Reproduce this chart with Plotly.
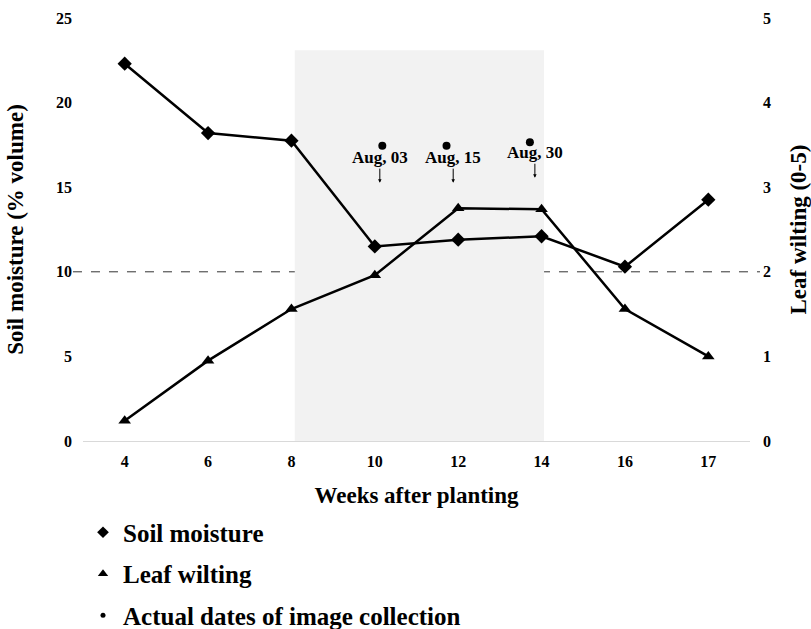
import plotly.graph_objects as go

# Weeks after planting (categorical tick labels)
weeks = ["4", "6", "8", "10", "12", "14", "16", "17"]
# Soil moisture (% volume), left axis
soil_moisture = [22.3, 18.2, 17.75, 11.5, 11.9, 12.1, 10.3, 14.26]
# Leaf wilting score (0-5), right axis
leaf_wilting = [0.24, 0.95, 1.56, 1.96, 2.75, 2.74, 1.56, 1.0]

# Image collection dates, placed along the week axis (category index units)
image_dates = ["Aug, 03", "Aug, 15", "Aug, 30"]
image_pos = [3.09, 3.86, 4.86]
image_level = [17.45, 17.45, 17.65]
arrow_pos = [3.06, 3.94, 4.92]
arrow_tip = [15.27, 15.27, 15.56]

# Shaded stress period (weeks 8-14) and threshold
stress_start, stress_end, stress_top = 2.04, 5.03, 23.1
threshold = 10

FONT = "Liberation Serif, Times New Roman, serif"
idx = list(range(len(weeks)))

fig = go.Figure()

fig.add_trace(go.Scatter(
    x=idx, y=soil_moisture, mode="lines+markers", name="Soil moisture",
    line=dict(color="black", width=2.5),
    marker=dict(symbol="diamond", size=11, color="black"),
    showlegend=False,
))
fig.add_trace(go.Scatter(
    x=idx, y=leaf_wilting, mode="lines+markers", name="Leaf wilting",
    yaxis="y2",
    line=dict(color="black", width=2.5),
    marker=dict(symbol="triangle-up", size=11, color="black"),
    showlegend=False,
))
fig.add_trace(go.Scatter(
    x=image_pos, y=image_level, mode="markers",
    name="Actual dates of image collection",
    marker=dict(symbol="circle", size=8, color="black"),
    showlegend=False,
))

# Legend entries (marker only)
for name, sym, sz in [("Soil moisture", "diamond", 9),
                      ("Leaf wilting", "triangle-up", 9),
                      ("Actual dates of image collection", "circle", 5)]:
    fig.add_trace(go.Scatter(
        x=[None], y=[None], mode="markers", name=name,
        marker=dict(symbol=sym, size=sz, color="black"),
        legendgroup=name,
    ))

fig.add_shape(type="rect", xref="x", yref="y",
              x0=stress_start, x1=stress_end, y0=0, y1=stress_top,
              fillcolor="#f2f2f2", line=dict(width=0), layer="below")
fig.add_shape(type="line", xref="paper", yref="y",
              x0=-0.015, x1=1.015, y0=threshold, y1=threshold,
              line=dict(color="#333333", width=1, dash="dash"), layer="below")

for label, ax_, tip in zip(image_dates, arrow_pos, arrow_tip):
    fig.add_annotation(
        x=ax_, y=tip, xref="x", yref="y", text=label,
        showarrow=True, ax=0, ay=-25, arrowhead=2, arrowsize=0.7,
        arrowwidth=1, arrowcolor="black",
        font=dict(family=FONT, size=17, color="black", weight="bold"),
    )

fig.update_layout(
    width=811, height=629,
    margin=dict(l=83, r=61, t=18, b=188, autoexpand=False),
    plot_bgcolor="white", paper_bgcolor="white",
    font=dict(family=FONT, color="black", weight="bold"),
    xaxis=dict(
        range=[-0.5, 7.5], tickvals=idx, ticktext=weeks,
        showgrid=False, zeroline=False,
        showline=True, linecolor="#d9d9d9", linewidth=1,
        ticks="", ticklabelstandoff=6,
        tickfont=dict(family=FONT, size=16, weight="bold"),
        title=dict(text="Weeks after planting", standoff=17,
                   font=dict(family=FONT, size=23, weight="bold")),
    ),
    yaxis=dict(
        range=[0, 25], tickvals=[0, 5, 10, 15, 20, 25],
        showgrid=False, zeroline=False, showline=False, ticks="",
        ticklabelstandoff=10,
        tickfont=dict(family=FONT, size=16, weight="bold"),
        title=dict(text="Soil moisture (% volume)", standoff=25,
                   font=dict(family=FONT, size=23, weight="bold")),
    ),
    yaxis2=dict(
        range=[0, 5], tickvals=[0, 1, 2, 3, 4, 5],
        overlaying="y", side="right",
        showgrid=False, zeroline=False, showline=False, ticks="",
        ticklabelstandoff=12,
        tickfont=dict(family=FONT, size=16, weight="bold"),
        title=dict(text="Leaf wilting (0-5)", standoff=20,
                   font=dict(family=FONT, size=23, weight="bold")),
    ),
    legend=dict(
        x=0.0, y=0.19, xref="paper", yref="container",
        xanchor="left", yanchor="top",
        orientation="v", itemwidth=30, tracegroupgap=6,
        font=dict(family=FONT, size=25, weight="bold"),
        bgcolor="rgba(0,0,0,0)",
    ),
)

fig.write_html("out.html")
